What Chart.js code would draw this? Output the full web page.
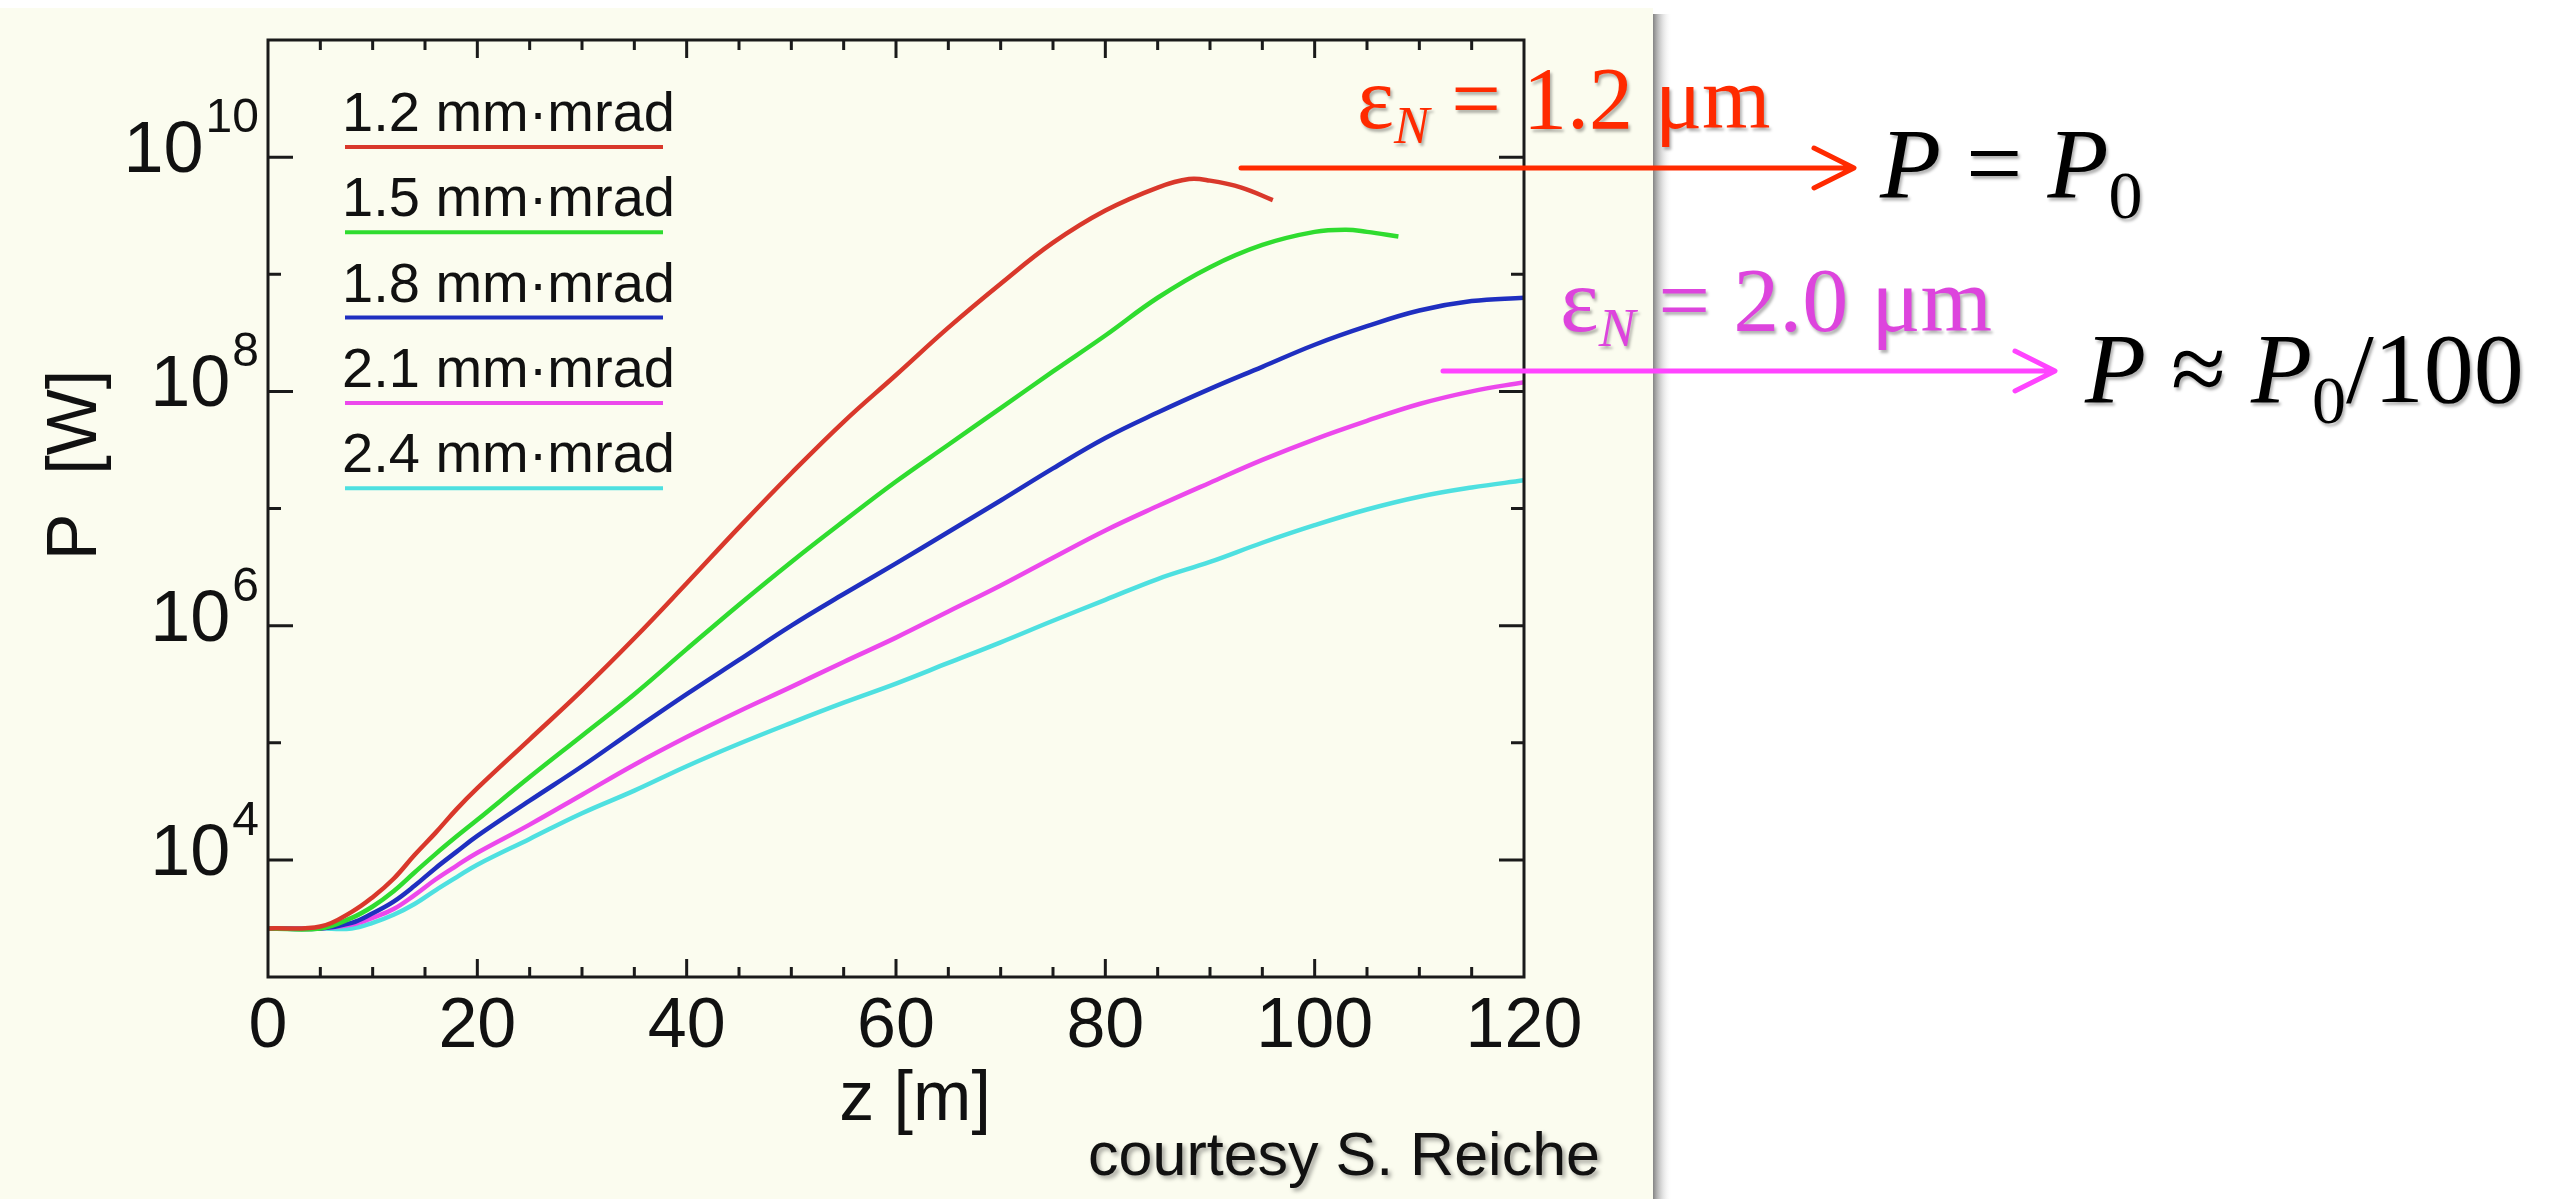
<!DOCTYPE html>
<html>
<head>
<meta charset="utf-8">
<title>FEL power along the undulator</title>
<script src="https://cdn.jsdelivr.net/npm/chart.js@4.4.1/dist/chart.umd.min.js"></script>
<style>
  html, body { margin: 0; padding: 0; background: #fff; overflow: hidden; }
  canvas { display: block; }
</style>
</head>
<body>
<canvas id="powerChart" width="2568" height="1199"></canvas>
<script>
// z [m] sample positions (red and green stop before the end of the undulator)
const zRed = [0, 5, 8, 10, 12, 14, 16, 18, 20, 25, 30, 35, 40, 45, 50, 55, 60, 65, 70, 75, 80, 85, 88, 90, 93, 96];
const zGreen = [0, 5, 8, 10, 12, 14, 16, 18, 20, 25, 30, 35, 40, 45, 50, 55, 60, 65, 70, 75, 80, 85, 90, 95, 100, 103, 105, 108];
const zLong = [0, 5, 8, 10, 12, 14, 16, 18, 20, 25, 30, 35, 40, 45, 50, 55, 60, 65, 70, 75, 80, 85, 90, 95, 100, 105, 110, 115, 120];

// P [W]
const pRed = [2.6e3, 2.7e3, 3.6e3, 4.8e3, 6.9e3, 1.1e4, 1.7e4, 2.7e4, 4.1e4, 1.07e5, 2.8e5, 7.8e5, 2.3e6, 6.9e6, 2.0e7, 5.5e7, 1.38e8, 3.5e8, 8.3e8, 1.86e9, 3.5e9, 5.5e9, 6.5e9, 6.3e9, 5.5e9, 4.3e9];
const pGreen = [2.6e3, 2.6e3, 3.2e3, 4.0e3, 5.4e3, 7.8e3, 1.12e4, 1.58e4, 2.2e4, 5.1e4, 1.15e5, 2.6e5, 6.3e5, 1.51e6, 3.5e6, 7.8e6, 1.7e7, 3.5e7, 7.2e7, 1.48e8, 3.0e8, 6.3e8, 1.15e9, 1.78e9, 2.3e9, 2.4e9, 2.3e9, 2.1e9];
const pBlue = [2.6e3, 2.6e3, 2.9e3, 3.5e3, 4.4e3, 6.0e3, 8.5e3, 1.17e4, 1.6e4, 3.2e4, 6.3e4, 1.29e5, 2.6e5, 5.1e5, 1.0e6, 1.86e6, 3.4e6, 6.3e6, 1.17e7, 2.2e7, 4.0e7, 6.6e7, 1.05e8, 1.62e8, 2.5e8, 3.6e8, 4.9e8, 5.9e8, 6.3e8];
const pMagenta = [2.6e3, 2.6e3, 2.8e3, 3.2e3, 3.8e3, 5.0e3, 6.8e3, 8.9e3, 1.15e4, 2.0e4, 3.6e4, 6.5e4, 1.12e5, 1.86e5, 3.0e5, 4.9e5, 7.9e5, 1.32e6, 2.2e6, 3.8e6, 6.5e6, 1.05e7, 1.66e7, 2.6e7, 3.9e7, 5.6e7, 7.8e7, 1.0e8, 1.2e8];
const pCyan = [2.6e3, 2.6e3, 2.6e3, 2.9e3, 3.4e3, 4.2e3, 5.5e3, 7.1e3, 9.1e3, 1.51e4, 2.5e4, 3.9e4, 6.3e4, 9.8e4, 1.48e5, 2.2e5, 3.2e5, 4.8e5, 7.2e5, 1.1e6, 1.66e6, 2.5e6, 3.5e6, 5.1e6, 7.2e6, 9.8e6, 1.26e7, 1.51e7, 1.74e7];

const seriesLabels = ["1.2 mm·mrad", "1.5 mm·mrad", "1.8 mm·mrad", "2.1 mm·mrad", "2.4 mm·mrad"];
const seriesColors = ["#d9382b", "#2fdc2f", "#1f2fc0", "#ec48ec", "#4ee0e0"];

const xTickLabels = [0, 20, 40, 60, 80, 100, 120];
const yTickExponents = [4, 6, 8, 10];

const SANS = '"Liberation Sans", Arial, Helvetica, sans-serif';
const SERIF = '"Liberation Serif", "Times New Roman", Times, serif';
const CREAM = "#fbfcef";

function toPoints(zs, ps) {
  return zs.map((z, i) => ({ x: z, y: ps[i] }));
}

// draw a row of text pieces one after another (for sub/superscripts)
function drawRuns(ctx, x, y, runs, color) {
  ctx.fillStyle = color;
  ctx.textAlign = "left";
  ctx.textBaseline = "alphabetic";
  runs.forEach(r => {
    ctx.font = r.font;
    ctx.fillText(r.text, x, y + (r.dy || 0));
    x += ctx.measureText(r.text).width;
  });
}

const panelPlugin = {
  id: "panel",
  beforeDraw(chart) {
    const ctx = chart.ctx;
    ctx.save();
    ctx.fillStyle = "#ffffff";
    ctx.fillRect(0, 0, chart.width, chart.height);
    ctx.fillStyle = CREAM;
    ctx.fillRect(0, 8, 1653, chart.height - 8);
    const g = ctx.createLinearGradient(1653, 0, 1672, 0);
    g.addColorStop(0, "rgba(100,100,100,0.8)");
    g.addColorStop(1, "rgba(255,255,255,0)");
    ctx.fillStyle = g;
    ctx.fillRect(1653, 14, 19, chart.height - 14);
    ctx.restore();
  }
};

const framePlugin = {
  id: "frame",
  afterDatasetsDraw(chart) {
    const ctx = chart.ctx;
    const a = chart.chartArea;
    const xs = chart.scales.x;
    const ys = chart.scales.y;
    ctx.save();
    ctx.strokeStyle = "#1a1a1a";
    ctx.lineWidth = 3;
    ctx.strokeRect(a.left, a.top, a.right - a.left, a.bottom - a.top);

    // inward ticks, every 5 m (long every 20 m)
    ctx.beginPath();
    for (let z = 5; z < 120; z += 5) {
      const px = xs.getPixelForValue(z);
      const len = z % 20 === 0 ? 18 : 10;
      ctx.moveTo(px, a.bottom); ctx.lineTo(px, a.bottom - len);
      ctx.moveTo(px, a.top); ctx.lineTo(px, a.top + len);
    }
    for (let e = 4; e <= 10; e++) {
      const py = ys.getPixelForValue(Math.pow(10, e));
      const len = e % 2 === 0 ? 25 : 13;
      ctx.moveTo(a.left, py); ctx.lineTo(a.left + len, py);
      ctx.moveTo(a.right, py); ctx.lineTo(a.right - len, py);
    }
    ctx.stroke();

    // tick labels
    ctx.fillStyle = "#111";
    ctx.font = "70px " + SANS;
    ctx.textAlign = "center";
    ctx.textBaseline = "alphabetic";
    xTickLabels.forEach(v => ctx.fillText(String(v), xs.getPixelForValue(v), 1047));

    ctx.textAlign = "right";
    yTickExponents.forEach(e => {
      const py = ys.getPixelForValue(Math.pow(10, e));
      ctx.font = "48px " + SANS;
      const sw = ctx.measureText(String(e)).width;
      ctx.fillText(String(e), a.left - 9, py - 25);
      ctx.font = "72px " + SANS;
      ctx.fillText("10", a.left - 9 - sw - 2, py + 15);
    });

    // axis titles
    ctx.font = "70px " + SANS;
    ctx.textAlign = "center";
    ctx.fillText("z [m]", 915, 1120);
    ctx.save();
    ctx.translate(96, 465);
    ctx.rotate(-Math.PI / 2);
    ctx.fillText("P  [W]", 0, 0);
    ctx.restore();

    // legend: label above a coloured line
    ctx.textAlign = "left";
    ctx.font = "56px " + SANS;
    chart.data.datasets.forEach((ds, i) => {
      const base = 131 + i * 85.3;
      ctx.fillStyle = "#111";
      ctx.fillText(ds.label, 342, base);
      ctx.strokeStyle = ds.borderColor;
      ctx.lineWidth = 4;
      ctx.beginPath();
      ctx.moveTo(345, base + 16);
      ctx.lineTo(663, base + 16);
      ctx.stroke();
    });

    // credit
    ctx.shadowColor = "rgba(0,0,0,0.35)";
    ctx.shadowBlur = 4;
    ctx.shadowOffsetX = 3;
    ctx.shadowOffsetY = 3;
    ctx.fillStyle = "#111";
    ctx.font = "61px " + SANS;
    ctx.textAlign = "right";
    ctx.fillText("courtesy S. Reiche", 1600, 1175);
    ctx.restore();
  },
  afterDraw(chart) {
    const ctx = chart.ctx;
    ctx.save();
    ctx.lineCap = "round";
    ctx.lineJoin = "round";

    // arrows
    const arrow = (x1, x2, y, color, w) => {
      ctx.strokeStyle = color;
      ctx.lineWidth = w;
      ctx.beginPath();
      ctx.moveTo(x1, y); ctx.lineTo(x2 - 2, y);
      ctx.moveTo(x2 - 40, y - 20); ctx.lineTo(x2, y); ctx.lineTo(x2 - 40, y + 20);
      ctx.stroke();
    };
    arrow(1241, 1854, 168, "#ff2a00", 5);
    arrow(1443, 2055, 371, "#ff44ff", 5);

    ctx.shadowColor = "rgba(0,0,0,0.3)";
    ctx.shadowBlur = 3;
    ctx.shadowOffsetX = 2;
    ctx.shadowOffsetY = 3;

    drawRuns(ctx, 1357, 128, [
      { text: "ε", font: "88px " + SERIF },
      { text: "N", font: "italic 53px " + SERIF, dy: 15 },
      { text: " = 1.2 μm", font: "88px " + SERIF }
    ], "#ff2a00");

    drawRuns(ctx, 1560, 331, [
      { text: "ε", font: "92px " + SERIF },
      { text: "N", font: "italic 55px " + SERIF, dy: 15 },
      { text: " = 2.0 μm", font: "92px " + SERIF }
    ], "#dd44dd");

    drawRuns(ctx, 1880, 197, [
      { text: "P", font: "italic 100px " + SERIF },
      { text: " = ", font: "100px " + SERIF },
      { text: "P", font: "italic 100px " + SERIF },
      { text: "0", font: "68px " + SERIF, dy: 21 }
    ], "#000");

    drawRuns(ctx, 2085, 402, [
      { text: "P", font: "italic 100px " + SERIF },
      { text: " ≈ ", font: "100px " + SERIF },
      { text: "P", font: "italic 100px " + SERIF },
      { text: "0", font: "68px " + SERIF, dy: 21 },
      { text: "/100", font: "100px " + SERIF }
    ], "#000");
    ctx.restore();
  }
};

const seriesData = [
  toPoints(zRed, pRed),
  toPoints(zGreen, pGreen),
  toPoints(zLong, pBlue),
  toPoints(zLong, pMagenta),
  toPoints(zLong, pCyan)
];

new Chart(document.getElementById("powerChart"), {
  type: "line",
  data: {
    datasets: seriesData.map((d, i) => ({
      label: seriesLabels[i],
      data: d,
      borderColor: seriesColors[i],
      backgroundColor: seriesColors[i],
      borderWidth: 4.5,
      pointRadius: 0,
      fill: false,
      tension: 0.4
    }))
  },
  options: {
    responsive: false,
    animation: false,
    devicePixelRatio: 1,
    layout: { padding: { left: 268, top: 40, right: 1044, bottom: 222 } },
    scales: {
      x: { type: "linear", min: 0, max: 120, display: false },
      y: { type: "logarithmic", min: 1e3, max: 1e11, display: false }
    },
    plugins: {
      legend: { display: false },
      tooltip: { enabled: false }
    }
  },
  plugins: [panelPlugin, framePlugin]
});
</script>
</body>
</html>
